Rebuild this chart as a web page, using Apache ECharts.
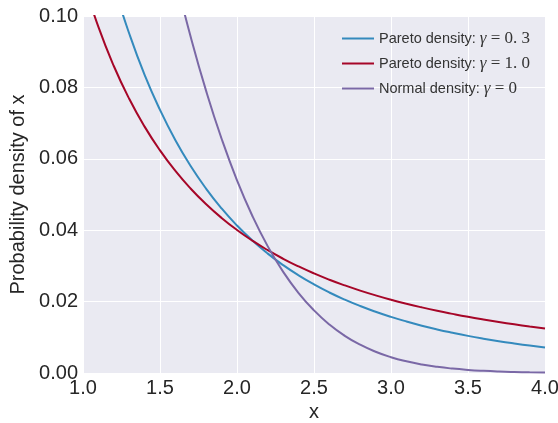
<!DOCTYPE html>
<html>
<head>
<meta charset="utf-8">
<script src="https://cdn.jsdelivr.net/npm/echarts@6/dist/echarts.min.js"></script>
<style>
html,body{margin:0;padding:0;background:#fff;}
#chart{width:558px;height:423px;}
</style>
</head>
<body>
<div id="chart"></div>
<script>
// x positions
var xValues = [1.0,1.1,1.2,1.3,1.4,1.5,1.6,1.7,1.8,1.9,2.0,2.1,2.2,2.3,2.4,2.5,2.6,2.7,2.8,2.9,3.0,3.1,3.2,3.3,3.4,3.5,3.6,3.7,3.8,3.9,4.0];
// Pareto density gamma = 0.3 (blue)
var paretoG03 = [0.14360,0.12460,0.10860,0.09510,0.08350,0.07370,0.06520,0.05790,0.05160,0.04610,0.04130,0.03711,0.03344,0.03020,0.02734,0.02481,0.02255,0.02055,0.01876,0.01716,0.01572,0.01443,0.01326,0.01221,0.01127,0.01040,0.00962,0.00891,0.00827,0.00768,0.00715];
// Pareto density gamma = 1.0 (red)
var paretoG10 = [0.11011,0.09694,0.08599,0.07680,0.06901,0.06235,0.05660,0.05162,0.04727,0.04344,0.04006,0.03706,0.03439,0.03199,0.02984,0.02789,0.02613,0.02454,0.02308,0.02175,0.02053,0.01941,0.01838,0.01743,0.01656,0.01574,0.01499,0.01429,0.01363,0.01302,0.01245];
// Normal density (purple)
var normalDens = [0.24197,0.21785,0.19419,0.17137,0.14973,0.12952,0.11092,0.09405,0.07895,0.06562,0.05399,0.04398,0.03547,0.02833,0.02239,0.01753,0.01358,0.01042,0.00792,0.00595,0.00443,0.00327,0.00238,0.00172,0.00123,0.00087,0.00061,0.00042,0.00029,0.00020,0.00013];
var xTicks = [1.0,1.5,2.0,2.5,3.0,3.5,4.0];
var yTicks = [0.00,0.02,0.04,0.06,0.08,0.10];
var seriesNames = ['Pareto density: γ=0.3','Pareto density: γ=1.0','Normal density: γ=0'];
var legendMath = ['γ = 0. 3','γ = 1. 0','γ = 0'];

function pairs(ys){ return xValues.map(function(x,i){ return [x, ys[i]]; }); }

var chart = echarts.init(document.getElementById('chart'), null, {renderer:'canvas'});
var txt = '#262626';
var font = 'Liberation Sans, Arial, sans-serif';
chart.setOption({
  backgroundColor:'#ffffff',
  animation:false,
  textStyle:{fontFamily:font},
  grid:{left:83,right:13,top:16,bottom:50,show:true,backgroundColor:'#EAEAF2',borderWidth:0,containLabel:false,outerBoundsMode:'none'},
  legend:{
    orient:'vertical', left:337, top:25, itemWidth:32, itemHeight:14, itemGap:8,
    icon:'path://M0,6 L32,6 L32,8 L0,8 Z',
    data:seriesNames,
    formatter:function(name){
      var i = seriesNames.indexOf(name);
      var pre = i===2 ? 'Normal density: ' : 'Pareto density: ';
      var m = legendMath[i];
      return '{a|' + pre + '}{g|γ}{m|' + m.slice(1) + '}';
    },
    textStyle:{
      color:txt, fontSize:14.5, fontFamily:font, lineHeight:16,
      rich:{
        a:{fontSize:14.5,fontFamily:font,color:'#333333',lineHeight:16},
        g:{fontSize:17,fontFamily:'Liberation Serif, DejaVu Serif, serif',fontStyle:'italic',color:'#333333',lineHeight:16},
        m:{fontSize:17,fontFamily:'Liberation Serif, DejaVu Serif, serif',color:'#333333',lineHeight:16}
      }
    }
  },
  xAxis:{
    type:'value', min:1.0, max:4.0, interval:0.5,
    name:'x', nameLocation:'middle', nameGap:27,
    nameTextStyle:{fontSize:20,color:txt,fontFamily:font},
    axisLine:{show:false}, axisTick:{show:false},
    axisLabel:{fontSize:20,color:txt,margin:5,fontFamily:font,formatter:function(v){return v.toFixed(1);},showMinLabel:true,showMaxLabel:true},
    splitLine:{show:true,lineStyle:{color:'#ffffff',width:1}}
  },
  yAxis:{
    type:'value', min:0, max:0.1, interval:0.02,
    name:'Probability density of x', nameLocation:'middle', nameGap:43,
    nameTextStyle:{fontSize:20,color:txt,fontFamily:font},
    axisLine:{show:false}, axisTick:{show:false},
    axisLabel:{fontSize:20,color:txt,margin:5,fontFamily:font,formatter:function(v){return v.toFixed(2);}},
    splitLine:{show:true,lineStyle:{color:'#ffffff',width:1}}
  },
  series:[
    {name:seriesNames[0],type:'line',data:pairs(paretoG03),smooth:0.5,showSymbol:false,symbol:'none',clip:true,
     lineStyle:{color:'#348ABD',width:2},itemStyle:{color:'#348ABD'}},
    {name:seriesNames[1],type:'line',data:pairs(paretoG10),smooth:0.5,showSymbol:false,symbol:'none',clip:true,
     lineStyle:{color:'#A60628',width:2},itemStyle:{color:'#A60628'}},
    {name:seriesNames[2],type:'line',data:pairs(normalDens),smooth:0.5,showSymbol:false,symbol:'none',clip:true,
     lineStyle:{color:'#7A68A6',width:2},itemStyle:{color:'#7A68A6'}}
  ]
});
</script>
</body>
</html>
